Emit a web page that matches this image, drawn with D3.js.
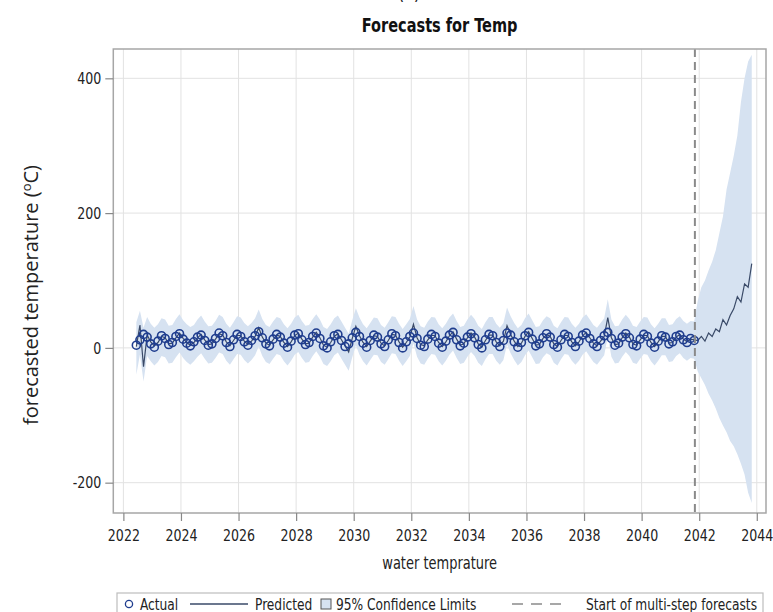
<!DOCTYPE html>
<html>
<head>
<meta charset="utf-8">
<script src="https://cdn.jsdelivr.net/npm/d3@7/dist/d3.min.js"></script>
<style>
  body { margin: 0; background: #fff; }
  svg { display: block; }
  .narrow { font-family: "Liberation Sans Narrow", "Arial Narrow", "DejaVu Sans Condensed", sans-serif; }
</style>
</head>
<body>
<svg id="chart" width="773" height="612"></svg>
<script>
// time axis: one value every 1/8 year starting mid 2022
var startYear = 2022.45;
var stepYears = 0.125;
var forecastStart = 2041.85;

var yearTicks = [2022, 2024, 2026, 2028, 2030, 2032, 2034, 2036, 2038, 2040, 2042, 2044];
var tempTicks = [-200, 0, 200, 400];

// observed water temperature
var actual = [
  4, 12, 20, 16, 6, 1, 10, 18, 14, 5, 8, 17, 21, 13, 7, 3,
  9, 16, 19, 11, 4, 6, 14, 22, 18, 8, 2, 12, 20, 17, 9, 4,
  11, 18, 24, 15, 6, 3, 13, 20, 16, 7, 1, 10, 19, 21, 12, 5,
  8, 17, 22, 14, 3, 0, 9, 18, 20, 11, 2, 6, 15, 23, 17, 7,
  1, 11, 19, 16, 6, 2, 12, 21, 18, 8, 0, 9, 17, 22, 14, 4,
  2, 13, 20, 17, 7, 1, 10, 19, 23, 12, 3, 7, 16, 21, 15, 5,
  0, 12, 20, 18, 8, 2, 11, 22, 19, 9, 1, 8, 18, 23, 13, 3,
  6, 15, 21, 16, 5, 1, 12, 20, 17, 8, 2, 10, 19, 22, 14, 6,
  2, 11, 18, 23, 14, 4, 7, 16, 21, 15, 5, 3, 13, 20, 17, 7,
  1, 10, 18, 16, 6, 9, 17, 19, 12, 8, 14, 11
];

// one-step predictions, then the multi-step forecast (last 16)
var predicted = [
  2, 34, -28, 19, 9, 3, 8, 17, 15, 6, 7, 15, 22, 14, 8, 4,
  8, 15, 20, 12, 5, 6, 13, 21, 19, 9, 3, 11, 19, 18, 10, 5,
  10, 17, 30, 16, 7, 4, 12, 19, 17, 8, 2, 9, 18, 22, 13, 6,
  7, 16, 23, 15, 4, 1, 8, 17, 21, 12, 3, -6, 14, 32, 18, 8,
  2, 10, 18, 17, 7, 3, 11, 20, 19, 9, 1, 8, 16, 35, 15, 5,
  3, 12, 19, 18, 8, 2, 9, 18, 24, 13, 4, 6, 15, 22, 16, 6,
  1, 11, 19, 19, 9, 3, 10, 33, 20, 10, 2, 7, 17, 24, 14, 4,
  5, 14, 20, 17, 6, 2, 11, 19, 18, 9, 3, 9, 18, 23, 15, 7,
  3, 10, 17, 45, 15, 5, 6, 15, 22, 16, 6, 4, 12, 19, 18, 8,
  2, 9, 17, 17, 7, 8, 16, 20, 13, 9, 13, 12,
  11, 17, 10, 22, 17, 28, 24, 42, 34, 48, 58, 76, 68, 95, 90, 125
];

var upper95 = [
  38, 55, 30, 46, 36, 30, 35, 44, 42, 33, 34, 43, 50, 41, 35, 31,
  34, 42, 48, 39, 32, 33, 40, 49, 46, 36, 30, 38, 47, 45, 37, 32,
  37, 44, 57, 43, 34, 31, 39, 46, 44, 35, 29, 36, 45, 49, 40, 33,
  34, 43, 50, 42, 31, 28, 35, 44, 48, 39, 30, 21, 41, 59, 45, 35,
  29, 37, 45, 44, 34, 30, 38, 47, 46, 36, 28, 35, 43, 62, 42, 32,
  30, 39, 46, 45, 35, 29, 36, 45, 51, 40, 31, 33, 42, 49, 43, 33,
  28, 38, 46, 46, 36, 30, 37, 60, 47, 37, 29, 34, 44, 51, 41, 31,
  32, 41, 47, 44, 33, 29, 38, 46, 45, 36, 30, 36, 45, 50, 42, 34,
  30, 37, 44, 72, 42, 32, 33, 42, 49, 43, 33, 31, 39, 46, 45, 35,
  29, 36, 44, 44, 34, 35, 43, 47, 40, 36, 40, 39,
  70, 90, 100, 115, 128, 145, 170, 195, 235, 260, 285, 315, 365, 400, 425, 435
];

var lower95 = [
  -40, -10, -50, -12, -20, -26, -21, -12, -14, -23, -22, -14, -7, -15, -21, -25,
  -20, -13, -8, -16, -23, -22, -15, -7, -9, -19, -25, -17, -9, -10, -18, -23,
  -18, -11, 2, -12, -21, -24, -16, -9, -11, -20, -26, -19, -10, -6, -15, -22,
  -21, -12, -5, -13, -24, -27, -20, -11, -7, -16, -25, -34, -14, 4, -10, -20,
  -26, -18, -10, -11, -21, -25, -17, -8, -9, -19, -27, -20, -12, 7, -13, -23,
  -25, -16, -9, -10, -20, -26, -19, -10, -4, -15, -24, -22, -13, -6, -12, -22,
  -27, -17, -9, -9, -19, -25, -18, 5, -8, -18, -26, -21, -11, -4, -14, -24,
  -23, -14, -8, -11, -22, -26, -17, -9, -10, -19, -25, -19, -10, -5, -13, -21,
  -25, -18, -11, 17, -13, -23, -22, -13, -6, -12, -22, -24, -16, -9, -10, -20,
  -26, -19, -11, -11, -21, -20, -12, -8, -15, -19, -15, -16,
  -35, -45, -55, -68, -78, -90, -104, -115, -125, -138, -146, -158, -172, -188, -215, -230
];

var bandColor = "#d6e2f1";
var actualColor = "#1f3d8e";
var predColor = "#3a4a68";
var narrowFont = "\"Liberation Sans Narrow\", \"Arial Narrow\", \"DejaVu Sans Condensed\", sans-serif";
var squeeze = "scale(0.85,1)";

var svg = d3.select("#chart");
var plotLeft = 113.3, plotRight = 766, plotTop = 49, plotBottom = 513;

var x = d3.scaleLinear().domain([2021.65, 2044.32]).range([plotLeft, plotRight]);
var y = d3.scaleLinear().domain([-245, 443.5]).range([plotBottom, plotTop]);

function timeAt(i) { return startYear + i * stepYears; }

// condensed text placed at (px, py)
function label(parent, px, py, txt, size, anchor) {
  return parent.append("text")
    .attr("transform", "translate(" + px + "," + py + ") " + squeeze)
    .attr("text-anchor", anchor || "start")
    .style("font-family", narrowFont).style("font-size", size + "px")
    .attr("fill", "#222").text(txt);
}

// cut-off label above the title
label(svg, 409, -1, "(c)", 22, "middle");

label(svg, (plotLeft + plotRight) / 2, 32, "Forecasts for Temp", 19, "middle")
  .style("font-weight", "bold").attr("fill", "#111");

svg.append("defs").append("clipPath").attr("id", "plotclip")
  .append("rect").attr("x", plotLeft).attr("y", plotTop)
  .attr("width", plotRight - plotLeft).attr("height", plotBottom - plotTop);

// grid
svg.append("g").selectAll("line").data(yearTicks).enter().append("line")
  .attr("x1", function(d){ return x(d); }).attr("x2", function(d){ return x(d); })
  .attr("y1", plotTop).attr("y2", plotBottom)
  .attr("stroke", "#e2e2e2").attr("stroke-width", 1);
svg.append("g").selectAll("line").data(tempTicks).enter().append("line")
  .attr("x1", plotLeft).attr("x2", plotRight)
  .attr("y1", function(d){ return y(d); }).attr("y2", function(d){ return y(d); })
  .attr("stroke", "#e2e2e2").attr("stroke-width", 1);

var plot = svg.append("g").attr("clip-path", "url(#plotclip)");

var band = d3.area()
  .x(function(d, i){ return x(timeAt(i)); })
  .y0(function(d, i){ return y(lower95[i]); })
  .y1(function(d, i){ return y(upper95[i]); });
plot.append("path").datum(upper95).attr("d", band).attr("fill", bandColor);

var line = d3.line()
  .x(function(d, i){ return x(timeAt(i)); })
  .y(function(d){ return y(d); });
plot.append("path").datum(predicted).attr("d", line)
  .attr("fill", "none").attr("stroke", predColor).attr("stroke-width", 1.2);

plot.selectAll("circle").data(actual).enter().append("circle")
  .attr("cx", function(d, i){ return x(timeAt(i)); })
  .attr("cy", function(d){ return y(d); })
  .attr("r", 4)
  .attr("fill", "none").attr("stroke", actualColor).attr("stroke-width", 1.6);

plot.append("line")
  .attr("x1", x(forecastStart)).attr("x2", x(forecastStart))
  .attr("y1", plotTop).attr("y2", plotBottom)
  .attr("stroke", "#8a8a8a").attr("stroke-width", 2).attr("stroke-dasharray", "8,5");

// frame
svg.append("rect").attr("x", plotLeft).attr("y", plotTop)
  .attr("width", plotRight - plotLeft).attr("height", plotBottom - plotTop)
  .attr("fill", "none").attr("stroke", "#a6a6a6").attr("stroke-width", 1.5);

// axes
var plainNum = function(d){ return String(d); };
var xAxis = svg.append("g").attr("transform", "translate(0," + plotBottom + ")")
  .call(d3.axisBottom(x).tickValues(yearTicks).tickSize(8).tickPadding(8).tickFormat(plainNum));
var yAxis = svg.append("g").attr("transform", "translate(" + plotLeft + ",0)")
  .call(d3.axisLeft(y).tickValues(tempTicks).tickSize(8).tickPadding(4).tickFormat(plainNum));
[xAxis, yAxis].forEach(function(g){
  g.select(".domain").remove();
  g.selectAll(".tick line").attr("stroke", "#888").attr("stroke-width", 1.2);
  g.selectAll(".tick text").attr("fill", "#222").style("font-size", "16.5px").style("font-family", narrowFont);
});
xAxis.selectAll(".tick text").attr("transform", squeeze);
// y labels end at the tick: squeeze toward their right edge
yAxis.selectAll(".tick text").attr("transform", "translate(-12,0) " + squeeze + " translate(12,0)");

label(svg, (plotLeft + plotRight) / 2, 569, "water temprature", 17, "middle");

var ylab = svg.append("text")
  .attr("transform", "translate(38,295) rotate(-90)")
  .attr("text-anchor", "middle")
  .style("font-family", "\"Open Sans\", sans-serif").style("font-size", "20px").attr("fill", "#222");
ylab.append("tspan").text("forecasted temperature (");
ylab.append("tspan").attr("dy", -7).style("font-size", "13px").text("o");
ylab.append("tspan").attr("dy", 7).text("C)");

// legend
var lg = svg.append("g");
lg.append("rect").attr("x", 117).attr("y", 593).attr("width", 646).attr("height", 32)
  .attr("fill", "#fff").attr("stroke", "#bdbdbd").attr("stroke-width", 1.2);
lg.append("circle").attr("cx", 129).attr("cy", 604).attr("r", 3.6)
  .attr("fill", "none").attr("stroke", actualColor).attr("stroke-width", 1.3);
label(lg, 140, 610, "Actual", 16);
lg.append("line").attr("x1", 190).attr("x2", 248).attr("y1", 604).attr("y2", 604)
  .attr("stroke", predColor).attr("stroke-width", 1.3);
label(lg, 255, 610, "Predicted", 16);
lg.append("rect").attr("x", 321).attr("y", 599).attr("width", 10).attr("height", 10)
  .attr("fill", bandColor).attr("stroke", "#555").attr("stroke-width", 1);
label(lg, 336, 610, "95% Confidence Limits", 16);
lg.append("line").attr("x1", 512).attr("x2", 561).attr("y1", 604).attr("y2", 604)
  .attr("stroke", "#8a8a8a").attr("stroke-width", 1.3).attr("stroke-dasharray", "11,8");
label(lg, 757, 610, "Start of multi-step forecasts", 16, "end");
</script>
</body>
</html>
